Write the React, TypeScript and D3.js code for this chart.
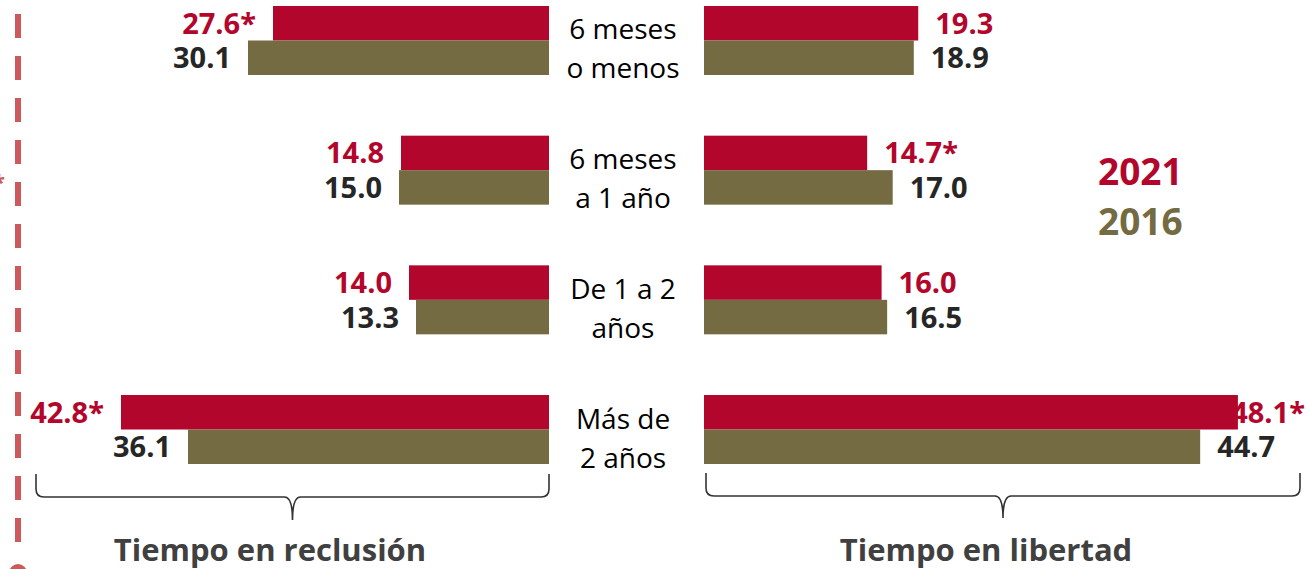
import React from "react";
import * as d3 from "d3";

const categories = ["6 meses|o menos", "6 meses|a 1 año", "De 1 a 2|años", "Más de|2 años"];
const series = ["2021", "2016"];
const reclusion2021 = [27.6, 14.8, 14.0, 42.8];
const reclusion2016 = [30.1, 15.0, 13.3, 36.1];
const libertad2021 = [19.3, 14.7, 16.0, 48.1];
const libertad2016 = [18.9, 17.0, 16.5, 44.7];
const starReclusion2021 = [true, false, false, true];
const starLibertad2021 = [false, true, false, true];
const panelTitles = ["Tiempo en reclusión", "Tiempo en libertad"];

const W = 1307;
const H = 569;
const RED = "#b3062c";
const OLIVE = "#746b42";
const DARK = "#262626";
const FONT = "'Open Sans', 'Liberation Sans', sans-serif";

export default function App() {
  const y = d3.scaleBand<string>().domain(categories).range([6, 464]).paddingInner(0.468).paddingOuter(0);
  const ys = d3.scaleBand<string>().domain(series).range([0, y.bandwidth()]).padding(0);
  const xL = d3.scaleLinear().domain([0, 50]).range([549, 49]);
  const xR = d3.scaleLinear().domain([0, 50]).range([704, 704 + 555]);

  const left = [reclusion2021, reclusion2016];
  const right = [libertad2021, libertad2016];
  const colors = [RED, OLIVE];
  const labelColors = [RED, DARK];
  const gap = 17;

  const dashes = d3.range(14, 560, 42);

  const brace = (x0: number, x1: number, yTop: number, yMid: number, yBot: number) => {
    const c = (x0 + x1) / 2;
    const p = d3.path();
    p.moveTo(x0, yTop);
    p.lineTo(x0, yMid - 8);
    p.quadraticCurveTo(x0, yMid, x0 + 8, yMid);
    p.lineTo(c - 8, yMid);
    p.quadraticCurveTo(c, yMid, c, yBot);
    p.moveTo(x1, yTop);
    p.lineTo(x1, yMid - 8);
    p.quadraticCurveTo(x1, yMid, x1 - 8, yMid);
    p.lineTo(c + 8, yMid);
    p.quadraticCurveTo(c, yMid, c, yBot);
    return p.toString();
  };

  return (
    <div style={{ position: "absolute", left: 0, top: 0, width: W, height: H }}>
      <svg width={W} height={H} style={{ display: "block", position: "absolute", left: 0, top: 0 }} fontFamily={FONT}>
        <rect width={W} height={H} fill="#fff" />
        {dashes.map((d) => (
          <rect key={d} x={15} y={d} width={6} height={24} fill="#cd5a5a" />
        ))}
        <circle cx={18} cy={573} r={9} fill="#cd5a5a" />
        <text x={-7} y={190} fontSize={22} fill="#cd5a5a" fontWeight={700}>*</text>

        {categories.map((c, i) => {
          const gy = y(c)!;
          return (
            <g key={c}>
              {series.map((s, k) => {
                const by = gy + ys(s)!;
                const bh = ys.bandwidth();
                const vl = left[k][i];
                const vr = right[k][i];
                const starL = k === 0 && starReclusion2021[i];
                const starR = k === 0 && starLibertad2021[i];
                const rx = xR(vr) + gap;
                const overflow = rx + 70 > W;
                return (
                  <g key={s}>
                    <rect x={xL(vl)} y={by} width={xL(0) - xL(vl)} height={bh} fill={colors[k]} />
                    <rect x={xR(0)} y={by} width={xR(vr) - xR(0)} height={bh} fill={colors[k]} />
                    <text x={xL(vl) - gap} y={by + bh / 2} dy="0.36em" textAnchor="end" fontSize={29} fontWeight={700} fill={labelColors[k]}>
                      {vl.toFixed(1) + (starL ? "*" : "")}
                    </text>
                    <text x={overflow ? W - 2 : rx} y={by + bh / 2} dy="0.36em" textAnchor={overflow ? "end" : "start"} fontSize={29} fontWeight={700} fill={labelColors[k]}>
                      {vr.toFixed(1) + (starR ? "*" : "")}
                    </text>
                  </g>
                );
              })}
              {c.split("|").map((line, j) => (
                <text key={j} x={623} y={gy + y.bandwidth() / 2 - 1 + j * 39} textAnchor="middle" fontSize={28} fill="#000">
                  {line}
                </text>
              ))}
            </g>
          );
        })}

        <path d={brace(36, 549, 474, 497, 520)} fill="none" stroke="#333" strokeWidth={1.6} />
        <path d={brace(706, 1300, 473, 496, 518)} fill="none" stroke="#333" strokeWidth={1.6} />

        <text x={270} y={561} textAnchor="middle" fontSize={31} fontWeight={700} fill="#404040">{panelTitles[0]}</text>
        <text x={986} y={561} textAnchor="middle" fontSize={31} fontWeight={700} fill="#404040">{panelTitles[1]}</text>

        <text x={1098} y={185} fontSize={37} fontWeight={700} fill={RED}>{series[0]}</text>
        <text x={1098} y={235} fontSize={37} fontWeight={700} fill={OLIVE}>{series[1]}</text>
      </svg>
    </div>
  );
}
